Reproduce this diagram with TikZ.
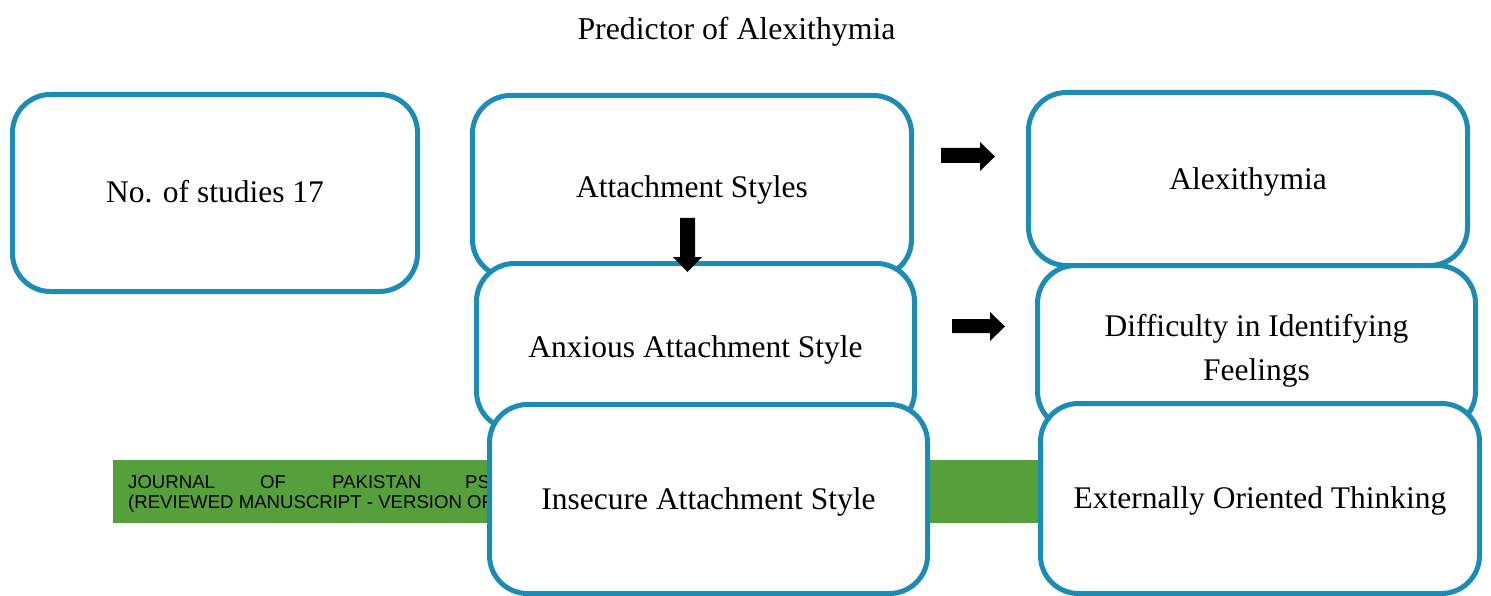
\documentclass[tikz,border=0pt]{standalone}
\usepackage{fontspec}
\setmainfont{Liberation Serif}
\newfontfamily\arialfont{Liberation Sans}
\definecolor{boxblue}{HTML}{1A8CB5}
\definecolor{bannergreen}{HTML}{55A03A}
\begin{document}
\begin{tikzpicture}[x=1pt,y=-1pt,
  stagebox/.style={draw=boxblue, line width=5pt, rounded corners=38pt, fill=white, inner sep=0pt},
  stagetext/.style={align=center, font=\fontsize{31.5}{44}\selectfont, inner sep=0pt},
  blockarrow/.style={fill=black},
  bannertext/.style={anchor=base west, inner sep=0pt, font=\arialfont\fontsize{18.6}{20}\selectfont}]
\useasboundingbox (0,0) rectangle (1491,596);
\node[stagetext, font=\fontsize{31.8}{38}\selectfont] (title) at (736.5,31.5) {Predictor of Alexithymia};
\node[stagebox, minimum width=405pt, minimum height=197pt] (studies) at (215,193) {};
\node[stagetext] (studiesT) at ([yshift=1pt]studies.center) {No. of studies 17};
\node[stagebox, minimum width=439pt, minimum height=182pt] (attach) at (692,186.5) {};
\node[stagetext] (attachT) at ([yshift=-3.5pt]attach.center) {Attachment Styles};
\node[stagebox, minimum width=438pt, minimum height=166pt] (anxious) at (695.5,346.5) {};
\node[stagetext] (anxiousT) at ([yshift=-3pt]anxious.center) {Anxious Attachment Style};
% banner
\fill[bannergreen] (113,460) rectangle (1045,523);
\node[bannertext] (b1) at (128,488) {JOURNAL};
\node[bannertext] (b2) at (260,488) {OF};
\node[bannertext] (b3) at (332,488) {PAKISTAN};
\node[bannertext] (b4) at (465,488) {PS};
\node[bannertext] (b5) at (128,508) {(REVIEWED MANUSCRIPT - VERSION OF};
\node[stagebox, minimum width=438pt, minimum height=189pt] (insecure) at (708.5,499) {};
\node[stagetext] (insecureT) at ([yshift=-2.5pt]insecure.center) {Insecure Attachment Style};
\node[stagebox, minimum width=439pt, minimum height=173pt] (alex) at (1248,179) {};
\node[stagetext] (alexT) at ([yshift=-3pt]alex.center) {Alexithymia};
\node[stagebox, minimum width=438pt, minimum height=164pt] (diff) at (1256.5,347.5) {};
\node[stagetext] (diffT) at ([yshift=-3pt]diff.center) {Difficulty in Identifying\\Feelings};
\node[stagebox, minimum width=439pt, minimum height=190pt] (ext) at (1260,498.5) {};
\node[stagetext] (extT) at ([yshift=-2pt]ext.center) {Externally Oriented Thinking};
% block arrows
\fill[blockarrow] (941,148) -- (980,148) -- (980,142) -- (995,156.5) -- (980,171) -- (980,163) -- (941,163) -- cycle;
\fill[blockarrow] (952,319) -- (990,319) -- (990,312) -- (1005,326.5) -- (990,341) -- (990,333) -- (952,333) -- cycle;
\fill[blockarrow] (680,218) -- (695,218) -- (695,257) -- (702,257) -- (687.5,272) -- (673,257) -- (680,257) -- cycle;
\end{tikzpicture}
\end{document}
